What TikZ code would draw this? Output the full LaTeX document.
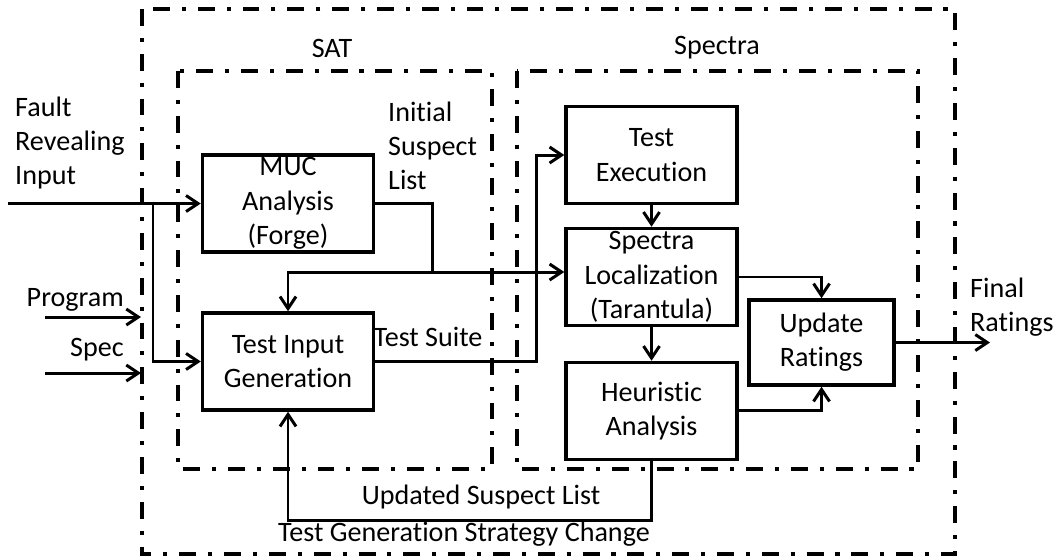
\documentclass[tikz,border=0pt]{standalone}
\usepackage{fontspec}
\setmainfont{Carlito}[Ligatures=NoCommon]
\usepackage{tikz}
\usetikzlibrary{arrows.meta,positioning,calc}

\begin{document}
\begin{tikzpicture}[
  x=0.02cm,y=-0.02cm,
  node distance=5mm and 7mm,
  every node/.style={font=\fontsize{16}{19.5}\selectfont,align=center},
  blk/.style={draw,line width=2pt,minimum width=3.42cm,minimum height=1.94cm,inner sep=0pt},
  zone/.style={line width=2pt,dash pattern=on 9.6pt off 6.8pt on 2.3pt off 6.8pt},
  arr/.style={-{Straight Barb[length=2.4mm,width=3.2mm]},line width=1.7pt},
  conn/.style={line width=1.7pt}
]
\useasboundingbox (0,0) rectangle (1060,559);
% groups
\draw[zone] (142,9) rectangle (955,554);
\draw[zone] (178,71) rectangle (492,469);
\draw[zone] (517,71) rectangle (918,469);
\node (satlbl) at (332,48) {SAT};
\node (spectralbl) at (717,48) {Spectra};

% SAT side
\node[blk] (muc) at (288,203.5) {MUC\\Analysis\\(Forge)};
\node[blk,below=1.15cm of muc] (tig) {Test Input\\Generation};

% Spectra side
\node[blk] (texec) at (651.5,155) {Test\\Execution};
\node[blk,below=0.43cm of texec] (sloc) {Spectra\\Localization\\(Tarantula)};
\node[blk,below=0.67cm of sloc] (heur) {Heuristic\\Analysis};
\node[blk,minimum width=2.9cm,minimum height=1.7cm] (upd) at (821.5,342.5) {Update\\Ratings};

% inputs
\node[align=left,anchor=west] (faultlbl) at (9,143) {Fault\\Revealing\\Input};
\node[anchor=east] (proglbl) at (130,300) {Program};
\node[anchor=east] (speclbl) at (130,350) {Spec};
\coordinate (fin) at (8,203.5);
\coordinate (split) at (153,203.5);
\coordinate (progin) at (45,317);
\coordinate (progout) at (141,317);
\coordinate (specin) at (45,373);
\coordinate (specout) at (141,373);
\draw[arr] (fin) -- (muc.west);
\draw[arr] (split) |- (tig.west);
\draw[arr] (progin) -- (progout);
\draw[arr] (specin) -- (specout);

% suspect list and test suite
\node[align=left,anchor=west] (initlbl) at (382,146) {Initial\\Suspect\\List};
\coordinate (isl) at (432,272);
\draw[arr] (muc.east) -| (isl) -- (isl -| sloc.west);
\draw[arr] (isl) -| (tig.north);
\node (tslbl) at (428,337) {Test Suite};
\draw[arr] (tig.east) -| ([xshift=-0.56cm]texec.west) -- (texec.west);

% spectra flow
\draw[arr] (texec) -- (sloc);
\draw[arr] (sloc) -- (heur);
\draw[arr] (sloc.east) -| (upd.north);
\draw[arr] (heur.east) -| (upd.south);
\coordinate (fout) at (990,342.5);
\draw[arr] (upd.east) -- (fout);
\node[align=left,anchor=west] (finallbl) at (964,307) {Final\\Ratings};

% feedback
\draw[arr] (heur.south) -- ++(0,-1.18cm) -| (tig.south);
\node (updlbl) at (481,497) {Updated Suspect List};
\node (stratlbl) at (464,534) {Test Generation Strategy Change};
\end{tikzpicture}
\end{document}
